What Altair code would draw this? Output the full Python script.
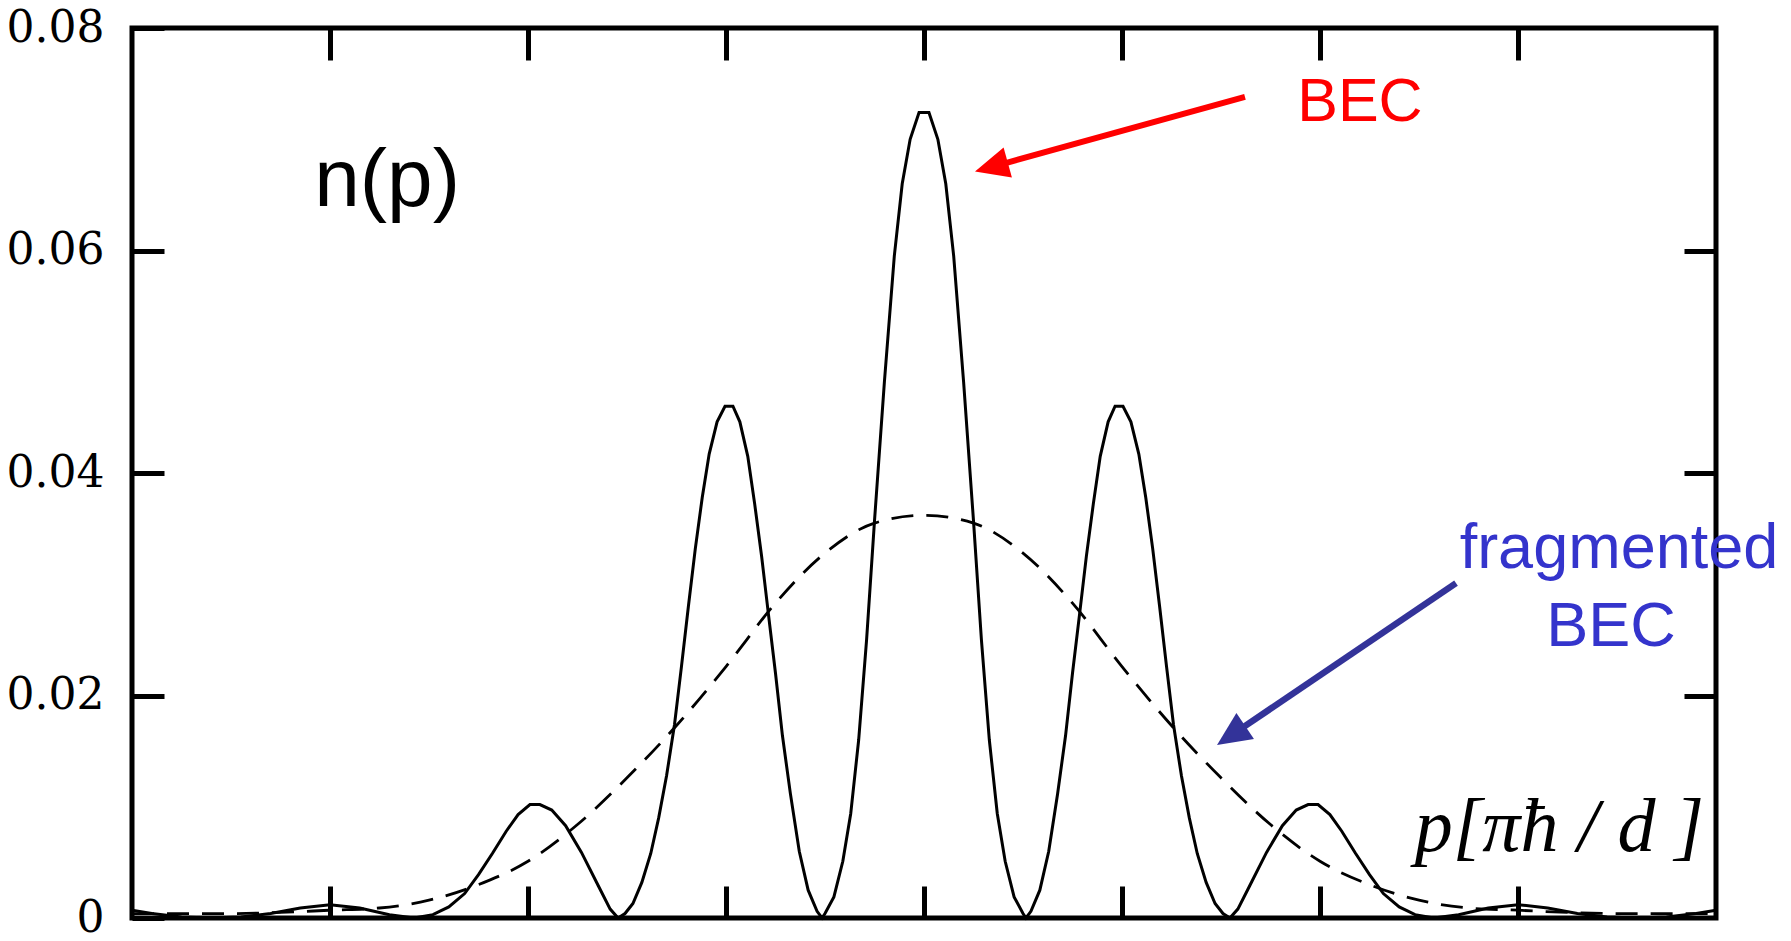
import math
import altair as alt
import pandas as pd

# ---------------- data ----------------
# BEC momentum distribution (solid line)
P_BEC = [-8.00, -7.80, -7.50, -7.20, -6.90, -6.60, -6.30, -6.00, -5.70, -5.40,
         -5.15, -4.96, -4.80, -4.64, -4.50, -4.36, -4.22, -4.10, -3.98, -3.88,
         -3.76, -3.62, -3.46, -3.29, -3.17, -3.09, -3.02, -2.94, -2.85, -2.76,
         -2.68, -2.60, -2.52, -2.45, -2.38, -2.31, -2.24, -2.17, -2.09, -2.01,
         -1.93, -1.86, -1.78, -1.71, -1.64, -1.57, -1.50, -1.43, -1.35, -1.26,
         -1.17, -1.08, -1.03, -1.00, -0.91, -0.82, -0.74, -0.66, -0.58, -0.50,
         -0.40, -0.30, -0.22, -0.14, -0.05,
         0.05, 0.14, 0.22, 0.30, 0.40, 0.50, 0.58, 0.66, 0.74, 0.82,
         0.91, 1.00, 1.03, 1.08, 1.17, 1.26, 1.35, 1.43, 1.50, 1.57,
         1.64, 1.71, 1.78, 1.86, 1.93, 2.01, 2.09, 2.17, 2.24, 2.31,
         2.38, 2.45, 2.52, 2.60, 2.68, 2.76, 2.85, 2.94, 3.02, 3.09,
         3.17, 3.29, 3.46, 3.62, 3.76, 3.88, 3.98, 4.10, 4.22, 4.36,
         4.50, 4.64, 4.80, 4.96, 5.15, 5.40, 5.70, 6.00, 6.30, 6.60,
         6.90, 7.20, 7.50, 7.80, 8.00]
N_BEC = [0.0007, 0.0004, 0.0001, 0.0000, 0.0001, 0.0004, 0.0009, 0.0012, 0.0009, 0.0003,
         0.0000, 0.0003, 0.0010, 0.0022, 0.0039, 0.0058, 0.0078, 0.0093, 0.0102, 0.0102,
         0.0097, 0.0083, 0.0059, 0.0029, 0.0008, 0.0000, 0.0004, 0.0013, 0.0032, 0.0058,
         0.0090, 0.0128, 0.0174, 0.0226, 0.0280, 0.0332, 0.0378, 0.0417, 0.0446, 0.0460,
         0.0460, 0.0446, 0.0415, 0.0372, 0.0325, 0.0272, 0.0220, 0.0164, 0.0112, 0.0060,
         0.0025, 0.0006, 0.0000, 0.0004, 0.0019, 0.0051, 0.0094, 0.0160, 0.0250, 0.0357,
         0.0482, 0.0595, 0.0660, 0.0700, 0.0724,
         0.0724, 0.0700, 0.0660, 0.0595, 0.0482, 0.0357, 0.0250, 0.0160, 0.0094, 0.0051,
         0.0019, 0.0004, 0.0000, 0.0006, 0.0025, 0.0060, 0.0112, 0.0164, 0.0220, 0.0272,
         0.0325, 0.0372, 0.0415, 0.0446, 0.0460, 0.0460, 0.0446, 0.0417, 0.0378, 0.0332,
         0.0280, 0.0226, 0.0174, 0.0128, 0.0090, 0.0058, 0.0032, 0.0013, 0.0004, 0.0000,
         0.0008, 0.0029, 0.0059, 0.0083, 0.0097, 0.0102, 0.0102, 0.0093, 0.0078, 0.0058,
         0.0039, 0.0022, 0.0010, 0.0003, 0.0000, 0.0003, 0.0009, 0.0012, 0.0009, 0.0004,
         0.0001, 0.0000, 0.0001, 0.0004, 0.0007]

# fragmented BEC (dashed line)
P_FRAG = [-8.0, -7.5, -7.0, -6.5, -6.0, -5.5, -5.0, -4.5, -4.0, -3.5, -3.0,
          -2.5, -2.0, -1.5, -1.0, -0.5, 0.0, 0.5, 1.0, 1.5, 2.0, 2.5,
          3.0, 3.5, 4.0, 4.5, 5.0, 5.5, 6.0, 6.5, 7.0, 7.5, 8.0]
N_FRAG = [0.0004, 0.0004, 0.0004, 0.0005, 0.0007, 0.0009, 0.0016, 0.0030, 0.0051, 0.0084, 0.0126,
          0.0173, 0.0226, 0.0283, 0.0328, 0.0355, 0.0362, 0.0355, 0.0328, 0.0283, 0.0226, 0.0173,
          0.0126, 0.0084, 0.0051, 0.0030, 0.0016, 0.0009, 0.0007, 0.0005, 0.0004, 0.0004, 0.0004]

X_TICKS = [-6, -4, -2, 0, 2, 4, 6]
Y_TICKS = [0, 0.02, 0.04, 0.06, 0.08]
Y_TICKS_RIGHT = [0.02, 0.04, 0.06]

assert len(P_BEC) == len(N_BEC)
assert len(P_FRAG) == len(N_FRAG)

# ---------------- layout ----------------
W, H = 1584, 890
X_DOM = [-8, 8]
Y_DOM = [0, 0.08]
PX_P = W / (X_DOM[1] - X_DOM[0])
PX_N = H / (Y_DOM[1] - Y_DOM[0])
TICK = 32

xs = alt.Scale(domain=X_DOM, nice=False, zero=False)
ys = alt.Scale(domain=Y_DOM, nice=False, zero=False)

tick_axis = dict(offset=-TICK, tickSize=TICK, tickWidth=5, tickColor="black",
                 tickCap="butt", domain=False, grid=False, title=None)

bec = pd.DataFrame({"p": P_BEC, "n": N_BEC})
frag = pd.DataFrame({"p": P_FRAG, "n": N_FRAG})

solid = alt.Chart(bec).mark_line(color="black", strokeWidth=3).encode(
    x=alt.X("p:Q", scale=xs,
            axis=alt.Axis(orient="bottom", values=X_TICKS, labels=False, **tick_axis)),
    y=alt.Y("n:Q", scale=ys,
            axis=alt.Axis(orient="left", values=Y_TICKS, format=".2~f",
                          labelFont="DejaVu Serif", labelFontSize=44, labelColor="black",
                          labelPadding=28, **tick_axis)),
)

dashed = alt.Chart(frag).mark_line(color="black", strokeWidth=2.8, strokeDash=[22, 13],
                                   interpolate="monotone").encode(
    x=alt.X("p:Q", scale=xs,
            axis=alt.Axis(orient="top", values=X_TICKS, labels=False, **tick_axis)),
    y=alt.Y("n:Q", scale=ys,
            axis=alt.Axis(orient="right", values=Y_TICKS_RIGHT, labels=False, **tick_axis)),
)


def enc_xy():
    return dict(x=alt.X("p:Q", scale=xs, axis=None), y=alt.Y("n:Q", scale=ys, axis=None))


def text_layer(label, p, n, size, color, font, align, style="normal"):
    df = pd.DataFrame({"p": [p], "n": [n], "t": [label]})
    return alt.Chart(df).mark_text(align=align, baseline="alphabetic", font=font,
                                   fontSize=size, color=color, fontStyle=style).encode(
        text="t:N", **enc_xy())


HEAD = "M0,0L-1,-0.46L-1,0.46Z"
HEAD_LEN = 34


def arrow_layers(tail, tip, color, width):
    dx = (tip[0] - tail[0]) * PX_P
    dy = -(tip[1] - tail[1]) * PX_N
    L = math.hypot(dx, dy)
    ux, uy = dx / L, dy / L
    back = HEAD_LEN - 4
    base = (tip[0] - ux * back / PX_P, tip[1] + uy * back / PX_N)
    ang = math.degrees(math.atan2(dy, dx)) % 360
    line_df = pd.DataFrame({"p": [tail[0]], "n": [tail[1]], "p2": [base[0]], "n2": [base[1]]})
    line = alt.Chart(line_df).mark_rule(color=color, strokeWidth=width, strokeCap="butt").encode(
        x2="p2:Q", y2="n2:Q", **enc_xy())
    head_df = pd.DataFrame({"p": [tip[0]], "n": [tip[1]]})
    head = alt.Chart(head_df).mark_point(shape=HEAD, size=(2 * HEAD_LEN) ** 2, filled=True,
                                         color=color, opacity=1, strokeWidth=0,
                                         angle=ang).encode(**enc_xy())
    return [line, head]


RED = "#ff0000"
BLUE_TXT = "#3434cc"
BLUE_ARR = "#333399"

layers = [solid, dashed]
layers += arrow_layers((3.242, 0.0738), (0.515, 0.0671), RED, 6)
layers += arrow_layers((5.374, 0.0301), (2.960, 0.01555), BLUE_ARR, 6.5)
layers += [
    text_layer("n(p)", -6.16, 0.0640, 82, "black", "Liberation Sans", "left"),
    text_layer("BEC", 3.77, 0.0716, 61, RED, "Liberation Sans", "left"),
    text_layer("fragmented", 7.02, 0.03146, 63, BLUE_TXT, "Liberation Sans", "center"),
    text_layer("BEC", 6.94, 0.02445, 63, BLUE_TXT, "Liberation Sans", "center"),
    text_layer("p[πħ / d ]", 7.88, 0.0060, 76, "black", "Liberation Serif", "right", "italic"),
]

chart = alt.layer(*layers).resolve_axis(x="independent", y="independent").properties(
    width=W, height=H,
    autosize=alt.AutoSizeParams(type="none"),
    padding={"left": 132, "top": 28, "right": 75, "bottom": 23},
    background="white",
).configure_view(stroke="black", strokeWidth=5)

chart.save("out.html", embed_options={"renderer": "svg", "actions": False})
